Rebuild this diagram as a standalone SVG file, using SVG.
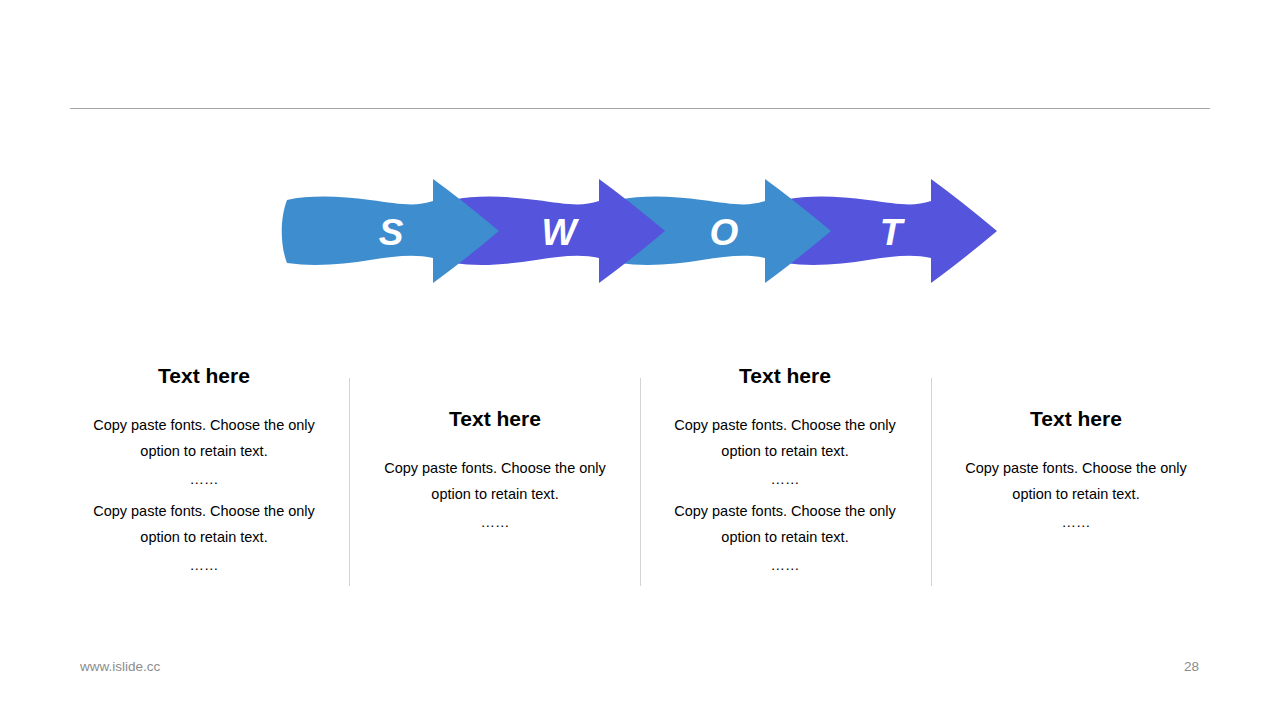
<svg xmlns="http://www.w3.org/2000/svg" width="1280" height="720" viewBox="0 0 1280 720">
<style>
.blue{fill:#3D8DCF}
.purple{fill:#5454DC}
.letter{font-family:"Liberation Sans",Arial,sans-serif;font-weight:bold;font-style:italic;font-size:37px;fill:#ffffff;text-anchor:middle}
.head{font-family:"Liberation Sans",Arial,sans-serif;font-weight:bold;font-size:21px;fill:#000;text-anchor:middle}
.body{font-family:"Liberation Sans",Arial,sans-serif;font-size:14.5px;fill:#000;text-anchor:middle}
.div{stroke:#d4d4d4;stroke-width:1}
.foot{font-family:"Liberation Sans",Arial,sans-serif;font-size:13.5px;fill:#8c8c8c}
</style>
<defs>
<path id="arrow" d="M287,200 C310,195 340,196 370,200 S415,207 433,201 L433,179 Q462,200 499,231 Q462,262 433,283 L433,258 C415,254 395,256 370,260 S315,267 287,263 C280,245 280,218 287,200 Z"/>
</defs>
<rect width="1280" height="720" fill="#ffffff"/>
<line x1="70" y1="108.5" x2="1210" y2="108.5" stroke="#a6a6a6" stroke-width="1"/>
<g id="arrow-T"><use href="#arrow" class="purple" transform="translate(498,0)"/><text class="letter" x="891" y="245">T</text></g>
<g id="arrow-O"><use href="#arrow" class="blue" transform="translate(332,0)"/><text class="letter" x="724" y="245">O</text></g>
<g id="arrow-W"><use href="#arrow" class="purple" transform="translate(166,0)"/><text class="letter" x="559" y="245">W</text></g>
<g id="arrow-S"><use href="#arrow" class="blue"/><text class="letter" x="391" y="245">S</text></g>
<g id="connectors">
<line class="div" x1="349.5" y1="378" x2="349.5" y2="586"/>
<line class="div" x1="640.5" y1="378" x2="640.5" y2="586"/>
<line class="div" x1="931.5" y1="378" x2="931.5" y2="586"/>
</g>
<g id="col1">
<text class="head" x="204" y="383">Text here</text>
<text class="body" x="204" y="430">Copy paste fonts. Choose the only</text>
<text class="body" x="204" y="456">option to retain text.</text>
<text class="body" x="204" y="484">……</text>
<text class="body" x="204" y="516">Copy paste fonts. Choose the only</text>
<text class="body" x="204" y="542">option to retain text.</text>
<text class="body" x="204" y="570">……</text>
</g>
<g id="col2">
<text class="head" x="495" y="426">Text here</text>
<text class="body" x="495" y="473">Copy paste fonts. Choose the only</text>
<text class="body" x="495" y="499">option to retain text.</text>
<text class="body" x="495" y="527">……</text>
</g>
<g id="col3">
<text class="head" x="785" y="383">Text here</text>
<text class="body" x="785" y="430">Copy paste fonts. Choose the only</text>
<text class="body" x="785" y="456">option to retain text.</text>
<text class="body" x="785" y="484">……</text>
<text class="body" x="785" y="516">Copy paste fonts. Choose the only</text>
<text class="body" x="785" y="542">option to retain text.</text>
<text class="body" x="785" y="570">……</text>
</g>
<g id="col4">
<text class="head" x="1076" y="426">Text here</text>
<text class="body" x="1076" y="473">Copy paste fonts. Choose the only</text>
<text class="body" x="1076" y="499">option to retain text.</text>
<text class="body" x="1076" y="527">……</text>
</g>
<g id="footer">
<text class="foot" x="80" y="671">www.islide.cc</text>
<text class="foot" x="1199" y="671" text-anchor="end">28</text>
</g>
</svg>
